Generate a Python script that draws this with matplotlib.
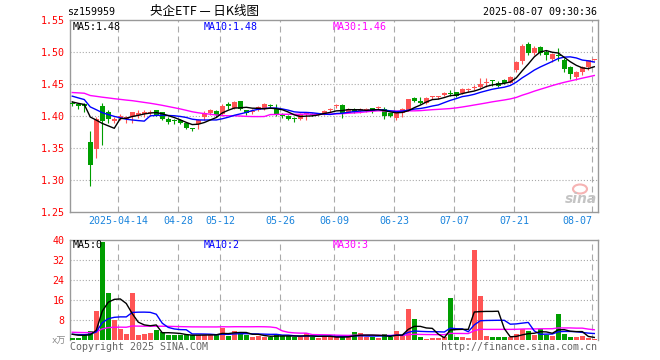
import matplotlib
matplotlib.use('Agg')
import matplotlib.pyplot as plt
from matplotlib.patches import Ellipse
import numpy as np
import pandas as pd

# trading days 2025-04-01 .. 2025-08-07 (A-share holidays removed)
holidays = ['2025-04-04', '2025-05-01', '2025-05-02', '2025-05-05', '2025-06-02']

opens = [1.421, 1.418, 1.419, 1.360, 1.349, 1.416, 1.407, 1.392, 1.397, 1.396,
         1.399, 1.402, 1.403, 1.404, 1.409, 1.406, 1.396, 1.393, 1.393, 1.389,
         1.381, 1.388, 1.398, 1.404, 1.408, 1.403, 1.419, 1.413, 1.423, 1.409,
         1.406, 1.409, 1.411, 1.417, 1.411, 1.401, 1.400, 1.397, 1.395, 1.403,
         1.403, 1.402, 1.403, 1.410, 1.415, 1.417, 1.405, 1.411, 1.408, 1.410,
         1.412, 1.412, 1.411, 1.404, 1.397, 1.404, 1.409, 1.428, 1.424, 1.420,
         1.429, 1.429, 1.433, 1.436, 1.437, 1.436, 1.440, 1.444, 1.445, 1.452,
         1.455, 1.452, 1.456, 1.452, 1.472, 1.486, 1.512, 1.498, 1.508, 1.500,
         1.489, 1.496, 1.488, 1.476, 1.461, 1.469, 1.476, 1.487]
highs = [1.423, 1.419, 1.421, 1.377, 1.398, 1.421, 1.409, 1.399, 1.403, 1.400,
         1.407, 1.409, 1.409, 1.410, 1.410, 1.407, 1.398, 1.396, 1.395, 1.391,
         1.382, 1.395, 1.408, 1.411, 1.410, 1.418, 1.422, 1.423, 1.424, 1.410,
         1.411, 1.416, 1.420, 1.419, 1.418, 1.404, 1.401, 1.399, 1.405, 1.405,
         1.405, 1.405, 1.409, 1.413, 1.418, 1.418, 1.413, 1.412, 1.413, 1.413,
         1.413, 1.415, 1.414, 1.405, 1.405, 1.412, 1.427, 1.430, 1.430, 1.429,
         1.431, 1.431, 1.437, 1.440, 1.438, 1.443, 1.444, 1.449, 1.460, 1.460,
         1.457, 1.454, 1.458, 1.463, 1.486, 1.512, 1.515, 1.509, 1.510, 1.503,
         1.499, 1.507, 1.490, 1.478, 1.470, 1.478, 1.488, 1.488]
lows = [1.415, 1.411, 1.406, 1.291, 1.335, 1.355, 1.389, 1.389, 1.394, 1.389,
        1.389, 1.397, 1.398, 1.402, 1.400, 1.394, 1.388, 1.388, 1.387, 1.380,
        1.377, 1.379, 1.394, 1.401, 1.399, 1.400, 1.411, 1.411, 1.410, 1.402,
        1.403, 1.408, 1.410, 1.413, 1.400, 1.397, 1.394, 1.391, 1.394, 1.394,
        1.400, 1.401, 1.401, 1.407, 1.413, 1.397, 1.404, 1.405, 1.405, 1.406,
        1.405, 1.409, 1.395, 1.399, 1.394, 1.398, 1.408, 1.422, 1.419, 1.419,
        1.426, 1.426, 1.432, 1.432, 1.430, 1.435, 1.437, 1.441, 1.443, 1.446,
        1.447, 1.445, 1.450, 1.451, 1.469, 1.482, 1.495, 1.496, 1.495, 1.487,
        1.485, 1.486, 1.469, 1.458, 1.457, 1.464, 1.472, 1.486]
closes = [1.418, 1.415, 1.415, 1.324, 1.396, 1.392, 1.396, 1.396, 1.400, 1.398,
          1.406, 1.405, 1.407, 1.407, 1.402, 1.396, 1.391, 1.392, 1.389, 1.382,
          1.379, 1.394, 1.405, 1.409, 1.401, 1.415, 1.415, 1.422, 1.411, 1.405,
          1.408, 1.414, 1.418, 1.416, 1.401, 1.400, 1.396, 1.396, 1.403, 1.404,
          1.402, 1.403, 1.408, 1.411, 1.416, 1.404, 1.411, 1.407, 1.411, 1.411,
          1.408, 1.413, 1.400, 1.400, 1.404, 1.411, 1.426, 1.424, 1.420, 1.428,
          1.430, 1.430, 1.436, 1.435, 1.432, 1.442, 1.441, 1.445, 1.450, 1.453,
          1.454, 1.447, 1.451, 1.461, 1.485, 1.510, 1.499, 1.507, 1.499, 1.496,
          1.497, 1.493, 1.473, 1.465, 1.468, 1.477, 1.487, 1.488]
volumes = [0.9, 0.9, 2.3, 3.7, 11.6, 39.2, 18.8, 8.0, 4.5, 2.5,
           18.8, 1.9, 2.5, 2.8, 4.1, 3.1, 2.1, 1.9, 1.9, 1.9,
           1.9, 2.1, 2.1, 2.1, 2.1, 4.8, 1.7, 3.7, 2.8, 2.0,
           1.3, 1.6, 1.3, 1.3, 2.3, 1.6, 1.6, 1.1, 1.3, 2.7,
           1.3, 0.9, 1.3, 1.3, 1.1, 1.3, 1.3, 3.2, 2.8, 1.3,
           1.3, 0.9, 2.4, 1.3, 3.6, 1.6, 12.4, 8.4, 1.3, 0.4,
           0.8, 0.8, 1.3, 16.8, 1.2, 1.2, 0.8, 36.0, 17.6, 1.6,
           1.2, 1.2, 1.2, 1.2, 2.4, 4.3, 3.6, 2.0, 4.3, 2.0,
           1.6, 10.4, 2.4, 1.2, 1.2, 1.6, 0.8, 0.4]

# off-chart March closes/volumes (estimated) so the averages start where the chart does
pre_close = [1.430, 1.433, 1.431, 1.434, 1.432, 1.430, 1.433, 1.432, 1.431, 1.434,
             1.445, 1.448, 1.447, 1.449, 1.446, 1.447, 1.448, 1.446, 1.447, 1.447,
             1.442, 1.441, 1.439, 1.440, 1.438, 1.426, 1.424, 1.422, 1.420]
pre_vol = [3.2, 3.8, 3.5, 3.1, 3.9, 3.6, 3.4, 3.3, 3.7, 3.5,
           3.6, 3.4, 3.2, 3.8, 3.5, 3.3, 3.7, 3.6, 3.4, 3.5,
           2.2, 2.5, 2.1, 2.4, 2.3, 2.8, 2.5, 2.7, 2.6]

tick_dates = ['2025-04-14', '2025-04-28', '2025-05-12', '2025-05-26', '2025-06-09',
              '2025-06-23', '2025-07-07', '2025-07-21', '2025-08-07']
tick_labels = ['2025-04-14', '04-28', '05-12', '05-26', '06-09', '06-23', '07-07', '07-21', '08-07']
price_ticks = [1.25, 1.30, 1.35, 1.40, 1.45, 1.50, 1.55]
price_labels = ['1.25', '1.30', '1.35', '1.40', '1.45', '1.50', '1.55']
vol_ticks = [8, 16, 24, 32, 40]
vol_labels = ['8', '16', '24', '32', '40']

plt.rcParams['font.family'] = ['DejaVu Sans Mono', 'Noto Sans CJK SC']
plt.rcParams['lines.scale_dashes'] = False

RED = '#ff5454'
GREEN = '#009e00'
GRID = '#aaaaaa'
BORDER = '#999999'
TXT = 7.2

W, H = 660, 360
fig = plt.figure(figsize=(6.6, 3.6), dpi=100)
fig.patch.set_facecolor('white')

days = pd.bdate_range('2025-04-01', '2025-08-07')
days = days[~days.isin(pd.to_datetime(holidays))]
x = np.arange(len(days))
tick_idx = np.array([days.get_loc(pd.Timestamp(d)) for d in tick_dates]) - 0.35

o = np.array(opens); h = np.array(highs); l = np.array(lows); c = np.array(closes)
v = np.array(volumes)
up = c >= o
cols = np.where(up, RED, GREEN)

ma_c = pd.Series(pre_close + closes)
ma_v = pd.Series(pre_vol + volumes)
n0 = len(pre_close)

ax = fig.add_axes([70 / W, 1 - 212 / H, 528 / W, 192 / H])
axv = fig.add_axes([70 / W, 1 - 340 / H, 528 / W, 100 / H])

for a in (ax, axv):
    a.set_xlim(-0.38, 87.62)
    for s in a.spines.values():
        s.set_color(BORDER)
        s.set_linewidth(1.0)
    a.tick_params(length=0, labelsize=TXT, labelcolor='red', pad=4)
    for t in tick_idx:
        a.axvline(t, color=GRID, lw=0.8, ls=(0, (4.3, 2.9)), zorder=0)

# price panel
ax.set_ylim(1.25, 1.55)
ax.set_yticks(price_ticks, price_labels)
for p in price_ticks[1:-1]:
    ax.axhline(p, color=GRID, lw=0.8, ls=(0, (0.8, 1.4)), zorder=0)
ax.set_xticks(tick_idx, tick_labels)
ax.tick_params(axis='x', labelcolor='#1a84dd', pad=3)
ax.get_xticklabels()[-1].set_ha('right')

body_h = np.maximum(np.abs(c - o), 0.0015)
ax.vlines(x, l, h, colors=cols, lw=0.8, zorder=2)
ax.bar(x, body_h, 0.8, bottom=np.minimum(o, c), color=cols, lw=0, zorder=3)

ax.plot(x, ma_c.rolling(30).mean().values[n0:], color='#ff00ff', lw=1.0, zorder=4)
ax.plot(x, ma_c.rolling(10).mean().values[n0:], color='#0000ff', lw=1.0, zorder=5)
ax.plot(x, ma_c.rolling(5).mean().values[n0:], color='black', lw=1.0, zorder=6)

# volume panel
axv.set_ylim(0, 40)
axv.set_yticks(vol_ticks, vol_labels)
axv.set_xticks([])
axv.spines['bottom'].set_visible(False)
for q in vol_ticks[:-1]:
    axv.axhline(q, color=GRID, lw=0.8, ls=(0, (0.8, 1.4)), zorder=0)
axv.bar(x, v, 0.8, color=cols, lw=0, zorder=3)
axv.plot(x, ma_v.rolling(30).mean().values[n0:], color='#ff00ff', lw=1.0, zorder=4)
axv.plot(x, ma_v.rolling(10).mean().values[n0:], color='#0000ff', lw=1.0, zorder=5)
axv.plot(x, ma_v.rolling(5).mean().values[n0:], color='black', lw=1.0, zorder=6)


def ftext(px_x, px_y, s, **kw):
    kw.setdefault('fontsize', TXT)
    kw.setdefault('va', 'center')
    fig.text(px_x / W, 1 - px_y / H, s, **kw)


ftext(67, 12, 'sz159959', color='black')
ftext(150, 12, '央企ETF — 日K线图', color='black', fontsize=9,
      family=['Noto Sans CJK SC', 'DejaVu Sans'])
ftext(597, 12, '2025-08-07 09:30:36', color='black', ha='right')

ftext(73, 27, 'MA5:1.48', color='black')
ftext(204, 27, 'MA10:1.48', color='#0000ff')
ftext(333, 27, 'MA30:1.46', color='#ff00ff')

ftext(73, 245, 'MA5:0', color='black')
ftext(204, 245, 'MA10:2', color='#0000ff')
ftext(333, 245, 'MA30:3', color='#ff00ff')

ftext(66, 341, 'x万', color='#888888', ha='right', fontsize=6.5)
ftext(70, 347, 'Copyright 2025 SINA.COM', color='#666666')
ftext(597, 347, 'http://finance.sina.com.cn', color='#666666', ha='right')

# sina watermark
fig.patches.append(Ellipse((580 / W, 1 - 189 / H), 14 / W, 9 / H, transform=fig.transFigure,
                           facecolor='none', edgecolor='#f4a0a0', lw=1.5, alpha=0.8))
ftext(581, 199, 'sina', color='#c4c4c4', ha='center', fontsize=10, style='italic',
      weight='bold', family='DejaVu Sans')

fig.savefig('out.png', dpi=100, facecolor='white')
